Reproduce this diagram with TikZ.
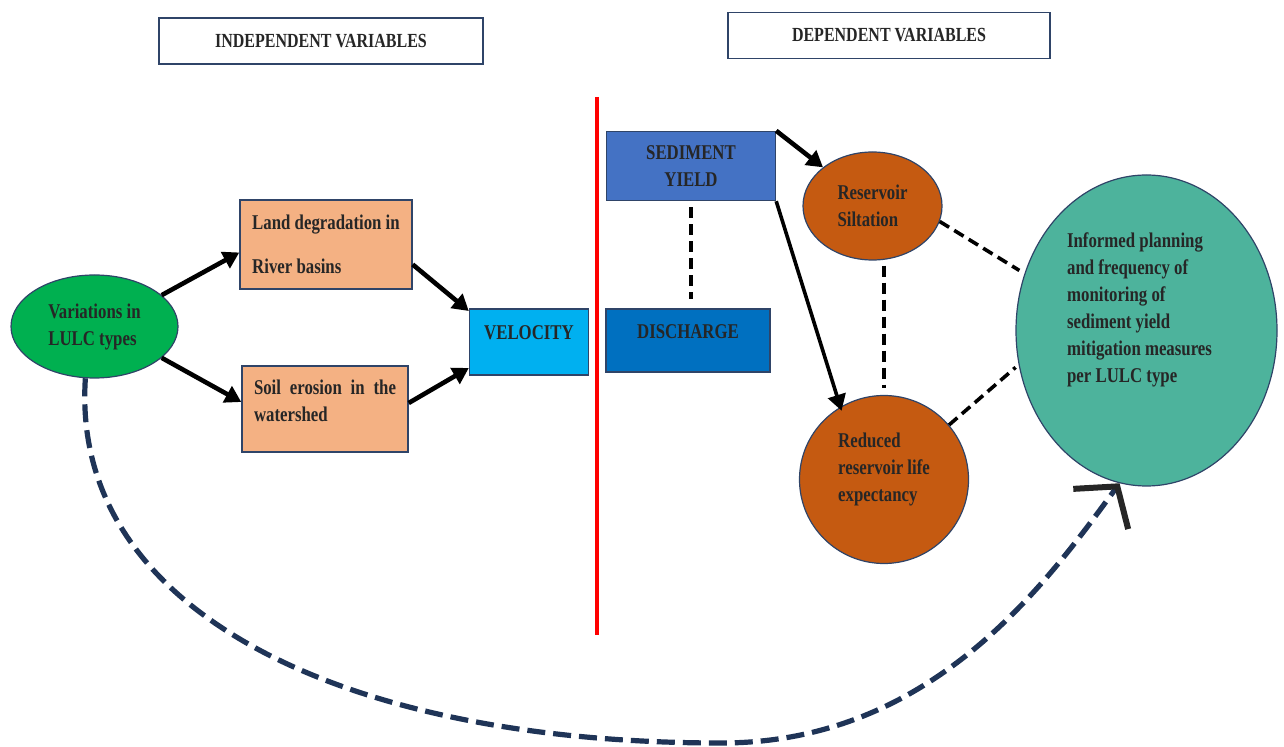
\documentclass[tikz,border=0pt]{standalone}
\usepackage{fontspec}
\setmainfont{Liberation Serif}[FakeStretch=0.8]
\usetikzlibrary{arrows.meta,positioning,shapes.geometric}

\definecolor{lulcgreen}{HTML}{00B050}
\definecolor{peach}{HTML}{F4B183}
\definecolor{skyblue}{HTML}{00B0F0}
\definecolor{sedblue}{HTML}{4472C4}
\definecolor{disblue}{HTML}{0070C0}
\definecolor{rust}{HTML}{C55A11}
\definecolor{planteal}{HTML}{4DB39C}
\definecolor{edgeblue}{HTML}{2F4468}
\definecolor{curvenavy}{HTML}{1F3457}
\definecolor{inkgray}{HTML}{262626}

\tikzset{
  box/.style={rectangle,draw=edgeblue,line width=0.7pt},
  blob/.style={ellipse,draw=edgeblue,line width=0.6pt,inner sep=0pt},
  arr/.style={-{Triangle[length=8pt,width=9pt]},line width=2.3pt},
  dashlink/.style={line width=1.8pt,dash pattern=on 5.5pt off 3pt},
}

\begin{document}
\begin{tikzpicture}[x=0.5pt,y=-0.5pt,every node/.style={text=inkgray,font=\bfseries\fontsize{10.5}{13.5}\selectfont}]
\useasboundingbox (0,0) rectangle (1284,747);

% headers
\node[box,minimum width=162pt,minimum height=23pt,font=\bfseries\fontsize{10}{12}\selectfont] (indep) at (321,41) {INDEPENDENT VARIABLES};
\node[box,minimum width=161pt,minimum height=23pt,font=\bfseries\fontsize{10}{12}\selectfont] (dep) at (889,35.5) {DEPENDENT VARIABLES};

% independent side
\node[blob,fill=lulcgreen,minimum width=83.5pt,minimum height=51.5pt,align=left] (lulc) at (94.5,326.5) {Variations in\\LULC types};
\node[box,fill=peach,minimum width=86pt,minimum height=44.5pt,align=left] (land) at (326,244.5) {Land degradation in\\[8.5pt]River basins};
\node[box,fill=peach,minimum width=83pt,minimum height=43pt] (soil) at (325,409) {};
\node[text width=71pt,align=justify] (soiltxt) at ([yshift=4pt]soil.center) {Soil erosion in the watershed};
\node[box,fill=skyblue,minimum width=59.5pt,minimum height=33pt,text depth=9pt] (vel) at (529,342) {VELOCITY};

\draw[arr] (lulc.25) -- ([yshift=-4pt]land.west);
\draw[arr] (lulc.-25) -- ([yshift=3.5pt]soil.west);
\draw[arr] ([yshift=-10pt]land.east) -- ([yshift=15.5pt]vel.west);
\draw[arr] ([yshift=3pt]soil.east) -- ([yshift=-13pt]vel.west);

% divider
\draw[red,line width=2pt] (597,97) -- (597,635);

% dependent side
\node[box,fill=sedblue,minimum width=84.5pt,minimum height=34.5pt,align=center] (sed) at (691,166) {SEDIMENT\\YIELD};
\node[box,fill=disblue,minimum width=82pt,minimum height=31.5pt,text depth=9pt] (dis) at (688,340.5) {DISCHARGE};
\node[blob,fill=rust,minimum width=69.5pt,minimum height=54pt,align=left] (silt) at (872.5,206) {Reservoir\\Siltation};
\node[blob,fill=rust,minimum width=84.5pt,minimum height=84pt] (red) at (884,479.5) {};
\node[align=left] (redtxt) at ([yshift=5.25pt]red.center) {Reduced\\reservoir life\\expectancy};
\node[blob,fill=planteal,minimum width=130.5pt,minimum height=155.5pt] (plan) at (1146.5,330.5) {};
\node[align=left] (plantxt) at ([xshift=-3.5pt,yshift=10.5pt]plan.center) {Informed planning\\and frequency of\\monitoring of\\sediment yield\\mitigation measures\\per LULC type};

\draw[arr] (sed.north east) -- (silt.142);
\draw[arr,line width=1.8pt,shorten >=-2pt] (sed.south east) -- (red.121);
\draw[dashlink,shorten <=3pt,shorten >=4.5pt] (sed.south) -- (sed.south |- dis.north);
\draw[dashlink,shorten <=2.5pt,shorten >=3.5pt] (red.north |- silt.south) -- (red.north);
\draw[dashlink,shorten >=3pt] (silt.-13) -- (plan.155);
\draw[dashlink,shorten >=2pt] (red.40) -- (plan.195);

% feedback loop
\coordinate (low) at (717,743);
\draw[curvenavy,line width=2.6pt,dash pattern=on 9pt off 4pt,
  -{Straight Barb[length=14pt,width=34pt,line width=3pt,color=inkgray]}]
  (lulc.-100) .. controls (70,610) and (340,742) .. (low)
  .. controls (930,745) and (1045,585) .. (plan.-100);
\end{tikzpicture}
\end{document}
